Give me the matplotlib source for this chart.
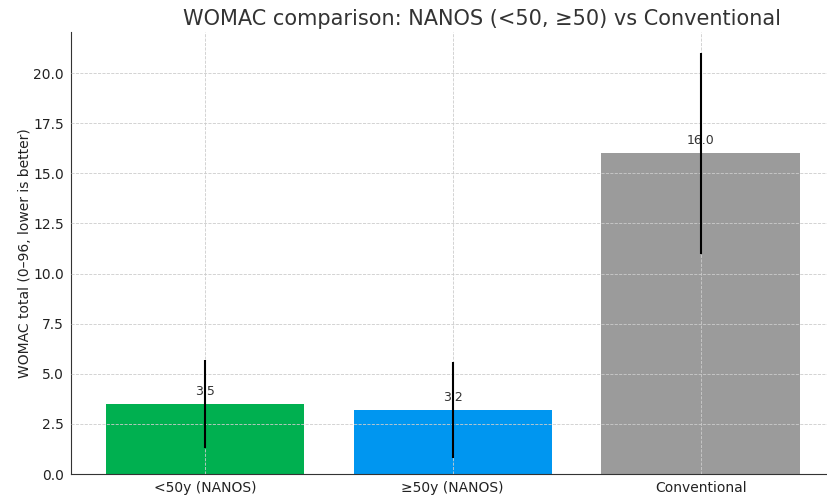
import matplotlib
matplotlib.use("Agg")
import matplotlib.pyplot as plt

categories = ["<50y (NANOS)", "≥50y (NANOS)", "Conventional"]
means = [3.5, 3.2, 16.0]
errors = [2.2, 2.4, 5.0]
colors = ["#00b050", "#0096f0", "#9b9b9b"]

fig = plt.figure(figsize=(8.27, 4.97), dpi=100)
ax = fig.add_axes([71/827, 1-474/497, (827-71)/827, (474-32)/497])
x = list(range(len(categories)))
ax.bar(x, means, width=0.8, color=colors, zorder=1)
ax.errorbar(x, means, yerr=errors, fmt="none", ecolor="black",
            elinewidth=1.5, capsize=0, zorder=5)
for xi, v in zip(x, means):
    ax.text(xi, v + 0.3, f"{v:.1f}", ha="center", va="bottom", fontsize=9,
            color="#333333", zorder=4)
ax.set_xticks(x)
ax.set_xticklabels(categories, fontsize=10)
ax.tick_params(axis="both", labelsize=10, length=0, pad=5, colors="#222222")
ax.set_xlim(-0.54, 2.51)
ax.set_ylim(0, 22.05)
ax.set_ylabel("WOMAC total (0–96, lower is better)", fontsize=10, labelpad=1,
              color="#222222")
fig.text(482/827, 1-19/497, "WOMAC comparison: NANOS (<50, ≥50) vs Conventional",
         ha="center", va="center", fontsize=15, color="#333333")
ax.grid(True, linestyle="--", linewidth=0.6, color="#cccccc", zorder=3)
ax.set_axisbelow(False)
ax.spines["top"].set_visible(False)
ax.spines["right"].set_visible(False)
for s in ("left", "bottom"):
    ax.spines[s].set_color("#333333")
fig.savefig("out.png", dpi=100)
